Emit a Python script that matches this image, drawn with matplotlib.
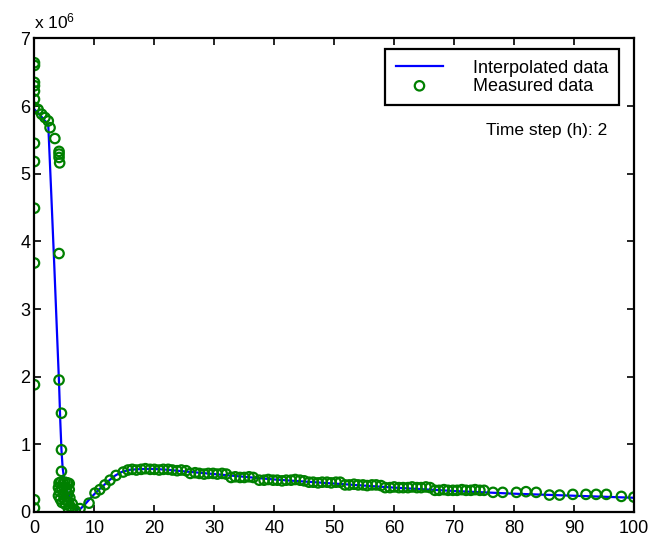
import matplotlib
matplotlib.use('Agg')
import matplotlib.pyplot as plt

plt.rcParams['font.family'] = ['Liberation Sans', 'DejaVu Sans']
plt.rcParams['mathtext.default'] = 'regular'

# interpolated curve (values in units of 1e6)
interp_x = [0, 0.8, 1.5, 2.3, 2.8, 3.3, 3.8, 4.1, 4.3, 4.5, 4.7, 5.0, 5.5, 6.0, 6.5,
            7.0, 7.6, 8.5, 9.5, 10.5, 11.5, 12.5, 13.5, 14.5, 16, 18, 20, 22, 25,
            30, 35, 40, 45, 50, 55, 60, 65, 70, 75, 80, 85, 90, 95, 100]
interp_y = [5.95, 5.88, 5.81, 5.72, 4.70, 3.65, 2.55, 1.90, 1.35, 0.92, 0.65, 0.46,
            0.30, 0.18, 0.09, 0.04, 0.04, 0.12, 0.22, 0.31, 0.39, 0.47, 0.54, 0.59,
            0.625, 0.635, 0.635, 0.625, 0.60, 0.56, 0.52, 0.48, 0.45, 0.42, 0.39,
            0.36, 0.335, 0.31, 0.29, 0.27, 0.255, 0.24, 0.225, 0.21]

# measured samples (values in units of 1e6)
meas_x = [0, 0, 0, 0, 0, 0, 0, 0, 0, 0, 0, 0, 0, 0,
          0.6, 1.2, 1.75, 2.3, 2.6, 3.4, 4.1, 4.1, 4.1, 4.2, 4.1, 4.1, 4.5, 4.5, 4.5,
          4.1, 4.4, 4.8, 5.1, 5.5, 5.8, 4.0, 4.2, 4.0, 4.3, 4.6, 4.8, 5.0, 5.3, 5.6,
          5.8, 5.2, 4.6, 5.6, 5.9, 6.0, 6.3, 6.4, 5.7, 6.8, 4.9, 5.4, 7.6,
          9.1, 10.1, 10.9, 11.75, 12.6, 13.6, 14.8, 15.6,
          16.3, 17.0, 17.8, 18.5, 19.3, 20.0, 20.8, 21.5, 22.3,
          23.0, 23.8, 24.5, 25.3,
          26.0, 26.8, 27.5, 28.3, 29.0, 29.8, 30.5, 31.3, 32.0,
          32.8, 33.5, 34.3, 35.0, 35.8, 36.5,
          37.5, 38.3, 39.0, 39.8, 40.5, 41.3, 42.0, 42.8, 43.5, 44.3, 45.0,
          45.8, 46.5, 47.3, 48.0, 48.8, 49.5, 50.3, 51.0,
          51.8, 52.5, 53.3, 54.0, 54.8, 55.5, 56.3, 57.0, 57.8,
          58.5, 59.3, 60.0, 60.8, 61.5, 62.3, 63.0, 63.8, 64.5, 65.3, 66.0,
          66.8, 67.5, 68.3, 69.0, 69.8, 70.5, 71.3, 72.0, 72.8, 73.5, 74.3, 75.0,
          76.5, 78.1, 80.4, 82.0, 83.7, 85.9, 87.6, 89.8, 92.0, 93.7, 95.4, 97.9, 100]
meas_y = [6.64, 6.60, 6.35, 6.30, 6.22, 6.10, 5.98, 5.45, 5.18, 4.49, 3.68, 1.88, 0.18, 0.06,
          5.95, 5.88, 5.83, 5.78, 5.68, 5.52, 5.33, 5.29, 5.24, 5.16, 3.82, 1.95, 1.46, 0.92, 0.60,
          0.43, 0.44, 0.43, 0.44, 0.43, 0.42, 0.36, 0.30, 0.24, 0.19, 0.33, 0.26, 0.18, 0.34, 0.27,
          0.33, 0.11, 0.14, 0.15, 0.21, 0.08, 0.12, 0.04, 0.04, 0.02, 0.37, 0.22, 0.05,
          0.13, 0.28, 0.33, 0.40, 0.47, 0.54, 0.59, 0.62,
          0.63, 0.62, 0.63, 0.64, 0.63, 0.63, 0.62, 0.63, 0.63,
          0.62, 0.61, 0.62, 0.61,
          0.57, 0.58, 0.57, 0.56, 0.57, 0.57, 0.56, 0.57, 0.56,
          0.51, 0.52, 0.51, 0.51, 0.52, 0.51,
          0.47, 0.47, 0.48, 0.47, 0.47, 0.46, 0.47, 0.47, 0.48, 0.47, 0.46,
          0.44, 0.44, 0.43, 0.44, 0.44, 0.43, 0.44, 0.44,
          0.40, 0.40, 0.41, 0.40, 0.40, 0.39, 0.40, 0.40, 0.39,
          0.36, 0.36, 0.37, 0.36, 0.36, 0.36, 0.37, 0.36, 0.36, 0.37, 0.36,
          0.32, 0.32, 0.33, 0.32, 0.32, 0.32, 0.33, 0.32, 0.32, 0.33, 0.32, 0.32,
          0.29, 0.29, 0.29, 0.30, 0.29, 0.25, 0.25, 0.26, 0.26, 0.26, 0.26, 0.23, 0.22]

x_ticks = [0, 10, 20, 30, 40, 50, 60, 70, 80, 90, 100]
y_ticks = [0, 1, 2, 3, 4, 5, 6, 7]
time_step = 2

green = (0, 0.5, 0)

fig = plt.figure(figsize=(6.53, 5.40), dpi=100)
ax = fig.add_axes([0.0528, 0.0519, 0.918, 0.877])

ax.plot(interp_x, interp_y, color=(0, 0, 1), linewidth=1.6, label='Interpolated data')
sc = ax.scatter(meas_x, meas_y, s=46, marker='o', facecolors='none', edgecolors=green,
                linewidths=1.6, label='Measured data', zorder=3)
# cut the circles sitting on x=0 / x=100 at the axes box
sc.set_clip_path(ax.patch)

ax.set_xlim(0, 100)
ax.set_ylim(0, 7)
ax.set_xticks(x_ticks)
ax.set_yticks(y_ticks)
ax.tick_params(direction='in', length=5, width=1.2, top=True, right=True, labelsize=13)
ax.tick_params(axis='x', pad=6)
ax.tick_params(axis='y', pad=3)
for s in ax.spines.values():
    s.set_linewidth(1.6)
    s.set_zorder(4)

ax.text(0.0, 1.022, 'x 10$^{6}$', transform=ax.transAxes, fontsize=12.5,
        ha='left', va='baseline')

leg = ax.legend(loc='upper right', bbox_to_anchor=(0.975, 0.978), fontsize=13,
                scatterpoints=1, handlelength=2.6, handletextpad=1.65, fancybox=False,
                framealpha=1, edgecolor='black', borderpad=0.6, labelspacing=0.05,
                borderaxespad=0)
leg.get_frame().set_linewidth(1.6)

ax.text(95.6, 5.64, 'Time step (h): %d' % time_step, fontsize=12.5,
        ha='right', va='center')

fig.savefig('out.png', dpi=100)
